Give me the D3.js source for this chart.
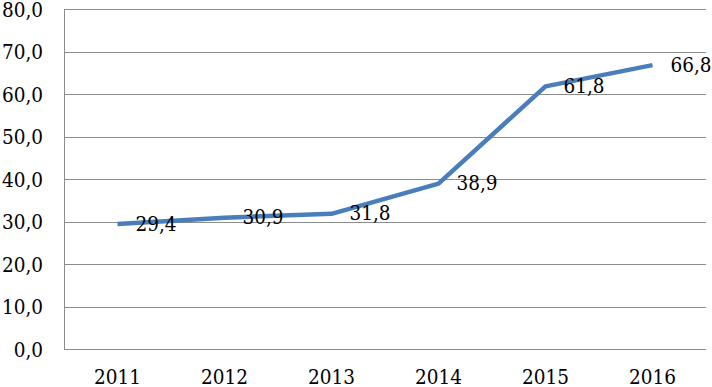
<!DOCTYPE html>
<html>
<head>
<meta charset="utf-8">
<script src="https://cdn.jsdelivr.net/npm/d3@7"></script>
<style>
  body { margin: 0; background: #fff; }
</style>
</head>
<body>
<div id="chart"></div>
<script>
// data
const years = ['2011', '2012', '2013', '2014', '2015', '2016'];
const values = [29.4, 30.9, 31.8, 38.9, 61.8, 66.8];
const yTicks = [0, 10, 20, 30, 40, 50, 60, 70, 80];

const width = 712, height = 387;
const margin = {top: 9, right: 6, bottom: 38, left: 64};
const FONT = "'DejaVu Serif Condensed', 'DejaVu Serif', serif";
const FS = 20.5;

const fmt = v => v.toFixed(1).replace('.', ',');

const svg = d3.select('#chart').append('svg')
    .attr('width', width)
    .attr('height', height);

const x = d3.scaleBand()
    .domain(years)
    .range([margin.left, width - margin.right]);

const y = d3.scaleLinear()
    .domain([0, 80])
    .range([height - margin.bottom, margin.top]);

// gridlines
svg.append('g')
    .selectAll('line')
    .data(yTicks)
    .join('line')
    .attr('x1', margin.left)
    .attr('x2', width - margin.right)
    .attr('y1', d => Math.round(y(d)) + 0.5)
    .attr('y2', d => Math.round(y(d)) + 0.5)
    .attr('stroke', '#8c8c8c')
    .attr('stroke-width', 1);

// left axis line
svg.append('line')
    .attr('x1', margin.left + 0.5).attr('x2', margin.left + 0.5)
    .attr('y1', y(80)).attr('y2', y(0))
    .attr('stroke', '#8c8c8c');

// y tick labels
svg.append('g')
    .selectAll('text')
    .data(yTicks)
    .join('text')
    .attr('x', margin.left - 21)
    .attr('y', d => y(d) + 1)
    .attr('dy', '0.32em')
    .attr('text-anchor', 'end')
    .attr('font-family', FONT)
    .attr('font-size', FS)
    .text(d => fmt(d));

// x labels
svg.append('g')
    .selectAll('text')
    .data(years)
    .join('text')
    .attr('x', d => x(d) + x.bandwidth() / 2)
    .attr('y', height - margin.bottom + 28)
    .attr('dy', '0.32em')
    .attr('text-anchor', 'middle')
    .attr('font-family', FONT)
    .attr('font-size', FS)
    .text(d => d);

// the line
const line = d3.line()
    .x((d, i) => x(years[i]) + x.bandwidth() / 2)
    .y(d => y(d));

svg.append('path')
    .datum(values)
    .attr('fill', 'none')
    .attr('stroke', '#4a7ebb')
    .attr('stroke-width', 4.5)
    .attr('stroke-linejoin', 'round')
    .attr('d', line);

// data labels
svg.append('g')
    .selectAll('text')
    .data(values)
    .join('text')
    .attr('x', (d, i) => x(years[i]) + x.bandwidth() / 2 + 18)
    .attr('y', d => y(d))
    .attr('dy', '0.32em')
    .attr('font-family', FONT)
    .attr('font-size', FS)
    .text(d => fmt(d));
</script>
</body>
</html>
